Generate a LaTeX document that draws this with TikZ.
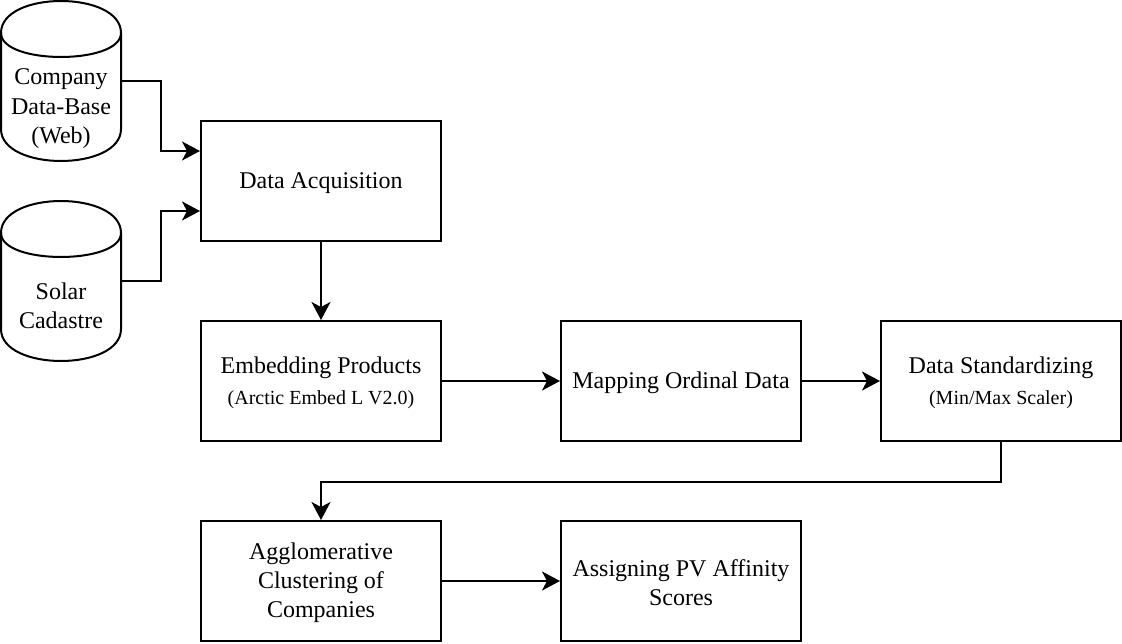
\documentclass[tikz,border=0pt]{standalone}
\usepackage{fontspec}
\setmainfont{Liberation Serif}
\usetikzlibrary{arrows.meta}
\newcommand\drawcyl[1]{%
\begin{scope}[shift={(#1.north west)}]
\draw[cyl] (0,32) .. controls (0,-10.667) and (120,-10.667) .. (120,32) -- (120,128) .. controls (120,170.667) and (0,170.667) .. (0,128) -- cycle;
\draw[cyl] (0,32) .. controls (0,64) and (120,64) .. (120,32);
\end{scope}}
\newcommand\dn{\rule{0pt}{21pt}}
\begin{document}
\begin{tikzpicture}[x=1pt,y=-1pt,
  box/.style={draw, line width=2pt, minimum width=240pt, minimum height=120pt, inner sep=0pt, align=center, font=\fontsize{24}{29}\selectfont},
  cylbox/.style={minimum width=120pt, minimum height=160pt, inner sep=0pt, outer sep=0pt},
  cyltext/.style={align=center, font=\fontsize{24}{29.5}\selectfont, inner sep=0pt},
  conn/.style={line width=2pt, -{Stealth[length=18pt,width=19pt,inset=5pt]}},
  cyl/.style={line width=2pt, line join=round}
]
\useasboundingbox (0,0) rectangle (1122,644);
% cylinders
\node[cylbox] (c1) at (61,81) {};
\node[cylbox] (c2) at (61,281) {};
\drawcyl{c1}
\drawcyl{c2}
\node[cyltext] (c1t) at ([yshift=-28pt]c1.center) {Company\\Data-Base\\(Web)};
\node[cyltext] (c2t) at ([yshift=-25pt]c2.center) {Solar\\Cadastre};
% boxes
\node[box] (da) at (321,181) {\dn Data Acquisition};
\node[box] (ep) at (321,381) {\dn Embedding Products\\[2pt]{\fontsize{20}{24}\selectfont (Arctic Embed L V2.0)}};
\node[box] (mo) at (681,381) {\dn Mapping Ordinal Data};
\node[box] (ds) at (1001,381) {\dn Data Standardizing\\[2pt]{\fontsize{20}{24}\selectfont (Min/Max Scaler)}};
\node[box] (ag) at (321,581) {\dn Agglomerative\\Clustering of\\Companies};
\node[box] (ap) at (681,581) {\dn Assigning PV Affinity\\Scores};
% connectors
\draw[conn] (c1.east) -- ++(40,0) |- ([yshift=30pt]da.west);
\draw[conn] (c2.east) -- ++(40,0) |- ([yshift=-30pt]da.west);
\draw[conn] (da) -- (ep);
\draw[conn] (ep) -- (mo);
\draw[conn] (mo) -- (ds);
\draw[conn] (ds.south) -- ++(0,40) -| (ag.north);
\draw[conn] (ag) -- (ap);
\end{tikzpicture}
\end{document}
